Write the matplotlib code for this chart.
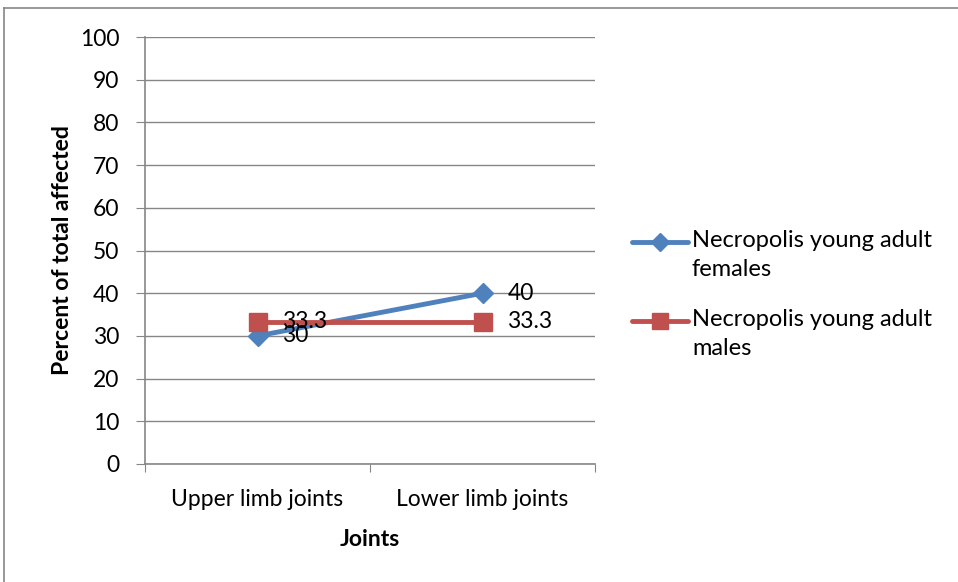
import matplotlib.pyplot as plt
from matplotlib.lines import Line2D

plt.rcParams['font.family'] = ['Lato', 'DejaVu Sans']

categories = ["Upper limb joints", "Lower limb joints"]
females = [30, 40]
males = [33.3, 33.3]
series_names = ["Necropolis young adult\nfemales", "Necropolis young adult\nmales"]
y_ticks = list(range(0, 101, 10))

blue = "#4f81bd"
red = "#c0504d"
grid_c = "#868686"
fs = 16.5

fig = plt.figure(figsize=(9.58, 5.82), dpi=100)
ax = fig.add_axes([145 / 958, 1 - 464 / 582, 450 / 958, 427 / 582])

# outer chart frame (only top and left edges are visible)
fig.add_artist(Line2D([4 / 958, 4 / 958], [0, 1 - 8 / 582], transform=fig.transFigure,
                      color=grid_c, lw=1.2))
fig.add_artist(Line2D([4 / 958, 1], [1 - 8 / 582, 1 - 8 / 582], transform=fig.transFigure,
                      color=grid_c, lw=1.2))

x = [0.5, 1.5]
styles = [(females, blue, "D", 10), (males, red, "s", 13)]
for vals, c, m, ms in styles:
    ax.plot(x, vals, color=c, lw=3.5, marker=m, ms=ms, zorder=3, solid_capstyle="round")
    for xi, v in zip(x, vals):
        ax.text(xi + 0.11, v, f"{v:g}", va="center", ha="left", fontsize=fs, zorder=4)

ax.set_xlim(0, 2)
ax.set_ylim(0, 100)
ax.set_yticks(y_ticks)
ax.yaxis.grid(True, color=grid_c, lw=1)
ax.set_axisbelow(True)
ax.set_xticks([0, 1, 2])
ax.set_xticklabels([])
ax.set_xticks(x, minor=True)
ax.set_xticklabels(categories, minor=True, fontsize=fs)
ax.tick_params(axis="x", which="minor", length=0, pad=18)
ax.tick_params(axis="x", which="major", direction="out", length=6, color=grid_c)
ax.tick_params(axis="y", length=6.5, color=grid_c, labelsize=fs, pad=12)

for s in ["top", "right"]:
    ax.spines[s].set_visible(False)
for s in ["left", "bottom"]:
    ax.spines[s].set_color(grid_c)
    ax.spines[s].set_linewidth(1.2)

ax.set_xlabel("Joints", fontsize=fs, fontweight="bold", labelpad=14)
ax.set_ylabel("Percent of total affected", fontsize=fs, fontweight="bold", labelpad=5)

# legend: handle beside the first line of each wrapped label
legend_rows = [(242, blue, "D", 9), (321, red, "s", 12)]
for (py, c, m, ms), name in zip(legend_rows, series_names):
    yf = 1 - py / 582
    fig.add_artist(Line2D([632 / 958, 688 / 958], [yf, yf], transform=fig.transFigure,
                          color=c, lw=3.5, solid_capstyle="round"))
    fig.add_artist(Line2D([660 / 958], [yf], transform=fig.transFigure,
                          color=c, marker=m, ms=ms, lw=0))
    fig.text(692 / 958, 1 - (py - 12) / 582, name, fontsize=17, va="top", ha="left",
             linespacing=1.45)

fig.savefig("out.png", dpi=100)
